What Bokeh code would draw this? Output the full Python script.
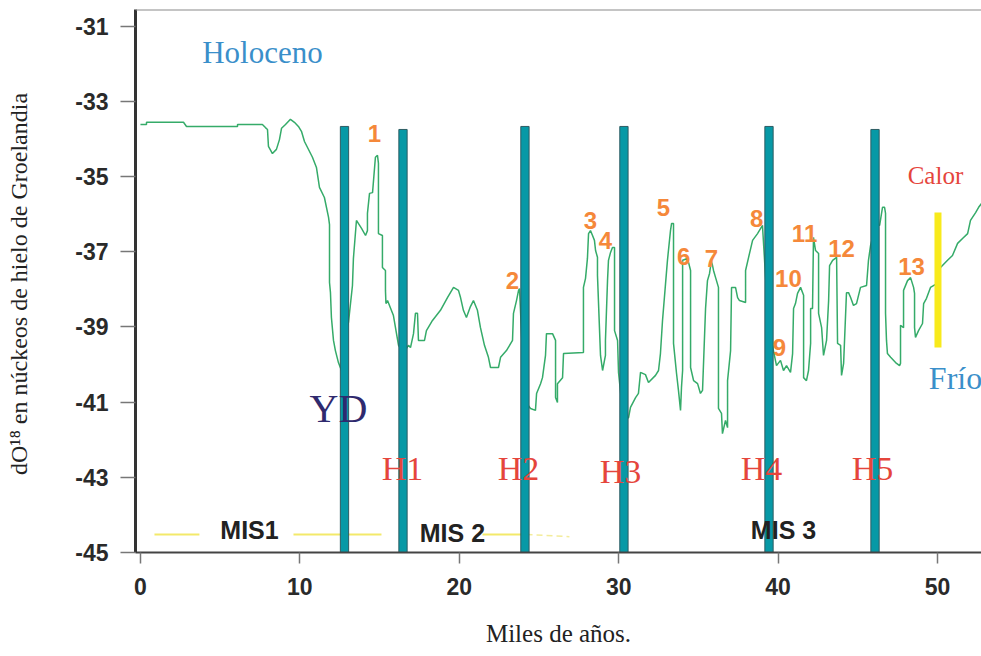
from bokeh.plotting import figure
from bokeh.models import Range1d, FixedTicker, Span
from bokeh.core.properties import value
from bokeh.embed import file_html
from bokeh.resources import INLINE

# ---- data: Greenland ice-core d18O (ka BP, per mil) ----
age_ka = [0.00, 0.38, 0.38, 2.70, 2.89, 6.09, 6.09, 7.65, 7.84, 7.97, 8.03, 8.28, 8.53, 8.72,
          8.85, 9.10, 9.41, 9.66, 9.91, 10.10, 10.29, 10.79, 11.04, 11.23, 11.54, 11.80, 11.86,
          11.86, 11.86, 11.92, 11.98, 12.11, 12.23, 12.42, 12.61, 12.92, 13.05, 13.30, 13.36,
          13.55, 13.87, 14.12, 14.24, 14.24, 14.37, 14.56, 14.74, 14.87, 14.93, 14.93, 15.18,
          15.18, 15.37, 15.37, 15.40, 15.50, 15.87, 16.19, 16.50, 16.81, 16.94, 17.13, 17.25,
          17.38, 17.44, 17.82, 17.94, 18.32, 18.82, 19.26, 19.64, 19.95, 20.08, 20.26, 20.45,
          20.70, 20.89, 21.14, 21.33, 21.58, 21.83, 21.96, 22.46, 22.59, 22.96, 23.34, 23.40,
          23.59, 23.72, 23.78, 24.09, 24.47, 24.78, 24.85, 25.10, 25.22, 25.41, 25.47, 25.85,
          26.04, 26.04, 26.16, 26.16, 26.48, 26.54, 27.79, 27.79, 27.79, 27.92, 28.04, 28.11,
          28.23, 28.36, 28.48, 28.55, 28.67, 28.67, 28.86, 28.99, 29.17, 29.17, 29.30, 29.36,
          29.49, 29.61, 29.74, 29.74, 29.93, 29.99, 30.30, 30.62, 30.74, 31.06, 31.24, 31.37,
          31.68, 31.87, 32.31, 32.50, 32.62, 32.75, 32.94, 33.06, 33.25, 33.32, 33.44, 33.44,
          33.63, 33.75, 33.88, 33.94, 34.01, 34.01, 34.32, 34.51, 34.51, 34.70, 34.95, 35.13,
          35.26, 35.45, 35.57, 35.70, 35.82, 35.95, 36.08, 36.26, 36.26, 36.45, 36.51, 36.70,
          36.83, 36.83, 37.02, 37.08, 37.33, 37.46, 37.58, 37.96, 37.96, 38.15, 38.40, 38.71,
          39.02, 39.40, 39.90, 40.15, 40.34, 40.53, 40.78, 40.91, 40.97, 41.09, 41.22, 41.41,
          41.60, 41.60, 41.78, 41.91, 42.04, 42.04, 42.16, 42.22, 42.35, 42.54, 42.54, 42.73,
          42.85, 43.04, 43.17, 43.23, 43.42, 43.67, 43.73, 43.92, 43.98, 44.11, 44.29, 44.42,
          44.55, 44.73, 44.92, 45.17, 45.55, 45.67, 45.80, 46.11, 46.37, 46.55, 46.68, 46.74,
          46.74, 46.74, 46.80, 46.86, 47.06, 47.37, 47.62, 47.68, 47.68, 47.87, 47.87, 48.12,
          48.31, 48.50, 48.56, 48.56, 48.62, 48.81, 49.06, 49.13, 49.31, 49.56, 49.88, 50.19,
          50.63, 50.94, 51.26, 51.57, 51.89, 52.07, 52.39, 52.58, 52.76]
d18o = [-33.62, -33.62, -33.56, -33.56, -33.67, -33.67, -33.62, -33.62, -33.70, -33.75, -34.20,
        -34.39, -34.28, -34.02, -33.72, -33.62, -33.48, -33.56, -33.67, -33.80, -34.07, -34.49,
        -34.76, -35.29, -35.56, -36.09, -36.28, -37.55, -37.82, -38.09, -38.75, -39.36, -39.63,
        -39.95, -40.16, -39.10, -38.88, -37.90, -37.18, -36.17, -36.38, -36.57, -36.44, -35.98,
        -35.45, -35.43, -34.49, -34.44, -34.65, -36.52, -36.57, -37.42, -37.50, -38.03, -38.38,
        -38.30, -38.70, -39.49, -39.70, -39.49, -39.55, -39.18, -38.64, -38.64, -39.36, -39.36,
        -39.10, -38.83, -38.56, -38.22, -37.95, -38.03, -38.22, -38.56, -38.75, -38.46, -38.30,
        -38.56, -39.02, -39.49, -39.81, -40.08, -40.08, -39.81, -39.63, -39.36, -38.64, -38.30,
        -38.03, -37.98, -40.96, -41.17, -41.22, -40.77, -40.51, -40.35, -39.76, -39.18, -39.18,
        -39.36, -40.88, -41.01, -40.51, -40.35, -39.71, -39.68, -38.64, -37.95, -37.71, -37.18,
        -36.52, -36.44, -36.57, -36.70, -36.97, -37.15, -37.63, -39.76, -40.16, -39.76, -39.36,
        -37.77, -37.23, -37.02, -36.89, -36.89, -39.10, -39.36, -40.21, -41.49, -41.41, -41.14,
        -40.88, -40.77, -40.21, -40.27, -40.48, -40.29, -40.16, -39.71, -38.83, -37.85, -37.23,
        -36.44, -36.25, -36.25, -39.44, -40.24, -40.69, -41.22, -40.61, -40.16, -37.23, -37.18,
        -37.50, -40.08, -40.43, -40.51, -40.77, -40.69, -38.51, -37.77, -37.58, -37.23, -37.50,
        -37.69, -37.95, -41.17, -41.30, -41.84, -41.49, -41.68, -40.43, -39.63, -37.95, -37.95,
        -38.22, -38.30, -38.35, -37.50, -37.15, -36.70, -36.52, -36.30, -39.00, -40.03, -39.89,
        -40.16, -40.03, -40.21, -39.71, -38.51, -38.38, -38.11, -37.95, -38.16, -40.35, -40.43,
        -40.16, -39.44, -38.51, -38.51, -36.62, -36.97, -37.05, -38.64, -39.02, -39.76, -39.36,
        -38.30, -37.37, -37.23, -37.15, -39.44, -39.49, -40.29, -39.97, -38.09, -38.09, -38.22,
        -38.43, -38.38, -37.95, -37.90, -37.23, -36.84, -36.30, -36.30, -35.82, -35.82, -35.98,
        -36.89, -38.64, -39.36, -39.71, -39.81, -39.95, -40.03, -39.97, -38.96, -39.02, -38.03,
        -37.77, -37.69, -37.95, -38.11, -39.02, -39.28, -39.10, -38.91, -38.38, -38.24, -37.95,
        -37.87, -37.42, -37.23, -37.10, -36.78, -36.65, -36.52, -36.17, -35.96, -35.82, -35.72]

# Heinrich / Younger Dryas event bars
event_age = [12.80, 16.47, 24.12, 30.33, 39.43, 46.08]
event_top = [-33.67, -33.75, -33.67, -33.67, -33.67, -33.75]

# Heinrich labels
h_labels = ["H1", "H2", "H3", "H4", "H5"]
h_age = [16.44, 23.71, 30.11, 38.96, 45.92]
h_val = [-42.77, -42.77, -42.85, -42.77, -42.77]

# Dansgaard-Oeschger interstadial numbers
do_labels = ["1", "2", "3", "4", "5", "6", "7", "8", "9", "10", "11", "12", "13"]
do_age = [14.68, 23.34, 28.23, 29.17, 32.81, 34.07, 35.82, 38.65, 40.09, 40.65, 41.66, 43.98, 48.37]
do_val = [-33.86, -37.77, -36.17, -36.70, -35.82, -37.13, -37.18, -36.12, -39.55, -37.71, -36.52, -36.91, -37.39]

# Marine isotope stages
mis_labels = ["MIS1", "MIS 2", "MIS 3"]
mis_age = [6.84, 19.57, 40.34]
mis_val = [-44.40, -44.47, -44.39]
mis_line_start = [0.88, 9.60, 21.46]
mis_line_end = [3.70, 15.12, 24.22]
mis_line_val = [-44.52, -44.52, -44.52]

# warm / cold scale bar
scale_age = [50.03]
scale_top = [-35.96]
scale_bottom = [-39.55]

x_ticks = [0, 10, 20, 30, 40, 50]
y_ticks = [-45, -43, -41, -39, -37, -35, -33, -31]

p = figure(width=981, height=656, x_range=Range1d(-0.31, 52.76), y_range=Range1d(-45, -30.56),
           output_backend="svg", toolbar_location=None,
           min_border_left=135, min_border_right=0, min_border_top=9, min_border_bottom=104)
p.background_fill_color = "white"
p.border_fill_color = "white"
p.outline_line_color = None
p.xgrid.grid_line_color = None
p.ygrid.grid_line_color = None

p.add_layout(Span(location=-30.56, dimension="width", line_color="#8a8a8a", line_width=2))

# axes
p.xaxis.ticker = FixedTicker(ticks=x_ticks)
p.yaxis.ticker = FixedTicker(ticks=y_ticks)
p.yaxis.major_label_overrides = {t: str(t) for t in y_ticks}
for ax in (p.xaxis, p.yaxis):
    ax.minor_tick_line_color = None
    ax.major_tick_in = 0
    ax.major_tick_line_color = "#777777"
    ax.major_tick_line_width = 1.5
    ax.major_label_text_font = "Liberation Sans"
    ax.major_label_text_font_size = "23px"
    ax.major_label_text_font_style = "bold"
    ax.major_label_text_color = "#2a2a2a"
    ax.axis_label_text_font = "Liberation Serif"
    ax.axis_label_text_font_style = "normal"
    ax.axis_label_text_color = "#222222"
p.yaxis.axis_line_width = 3
p.yaxis.axis_line_color = "#333333"
p.yaxis.major_tick_out = 15
p.yaxis.major_label_standoff = 12
p.yaxis.axis_label = "dO\u00b9\u2078 en n\u00fackeos de hielo de  Groelandia"
p.yaxis.axis_label_text_font_size = "24px"
p.yaxis.axis_label_standoff = 40
p.xaxis.axis_line_width = 2
p.xaxis.axis_line_color = "#444444"
p.xaxis.major_tick_out = 11
p.xaxis.major_label_standoff = 14
p.xaxis.axis_label = "Miles de a\u00f1os."
p.xaxis.axis_label_text_font_size = "25px"
p.xaxis.axis_label_standoff = 22

# MIS yellow lines
p.segment(x0=mis_line_start, x1=mis_line_end, y0=mis_line_val, y1=mis_line_val,
          line_color="#F3E96A", line_width=2)
p.segment(x0=[mis_line_end[2]], x1=[26.91], y0=[mis_line_val[2]], y1=[-44.58],
          line_color="#F3EC9A", line_width=1.5, line_dash="6 4")

# isotope curve
p.line(age_ka, d18o, line_color="#35AB69", line_width=1.5)

# event bars
p.vbar(x=event_age, width=0.52, top=event_top, bottom=-45,
       fill_color="#0799A6", line_color="#2D5C63", line_width=1)

# warm/cold bar
p.vbar(x=scale_age, width=0.44, top=scale_top, bottom=scale_bottom,
       fill_color="#F8EA1C", line_color=None)

# texts
serif = value("Liberation Serif")
sans = value("Liberation Sans")
p.text(x=[7.65], y=[-31.70], text=["Holoceno"], text_font=serif, text_font_size="31px",
       text_color="#3A8FCA", text_align="center", text_baseline="middle")
p.text(x=[12.42], y=[-41.17], text=["YD"], text_font=serif, text_font_size="40px",
       text_color="#2F2A6E", text_align="center", text_baseline="middle")
p.text(x=h_age, y=h_val, text=h_labels, text_font=serif, text_font_size="34px",
       text_color="#E5453C", text_align="center", text_baseline="middle")
p.text(x=[49.87], y=[-34.97], text=["Calor"], text_font=serif, text_font_size="25px",
       text_color="#E5453C", text_align="center", text_baseline="middle")
p.text(x=[51.13], y=[-40.35], text=["Fr\u00edo"], text_font=serif, text_font_size="32px",
       text_color="#3A8FCA", text_align="center", text_baseline="middle")
p.text(x=do_age, y=do_val, text=do_labels, text_font=sans, text_font_size="24px",
       text_font_style="bold", text_color="#F5883A", text_align="center", text_baseline="middle")
p.text(x=mis_age, y=mis_val, text=mis_labels, text_font=sans, text_font_size="25px",
       text_font_style="bold", text_color="#222222", text_align="center", text_baseline="middle")

open("out.html", "w").write(file_html(p, INLINE))
